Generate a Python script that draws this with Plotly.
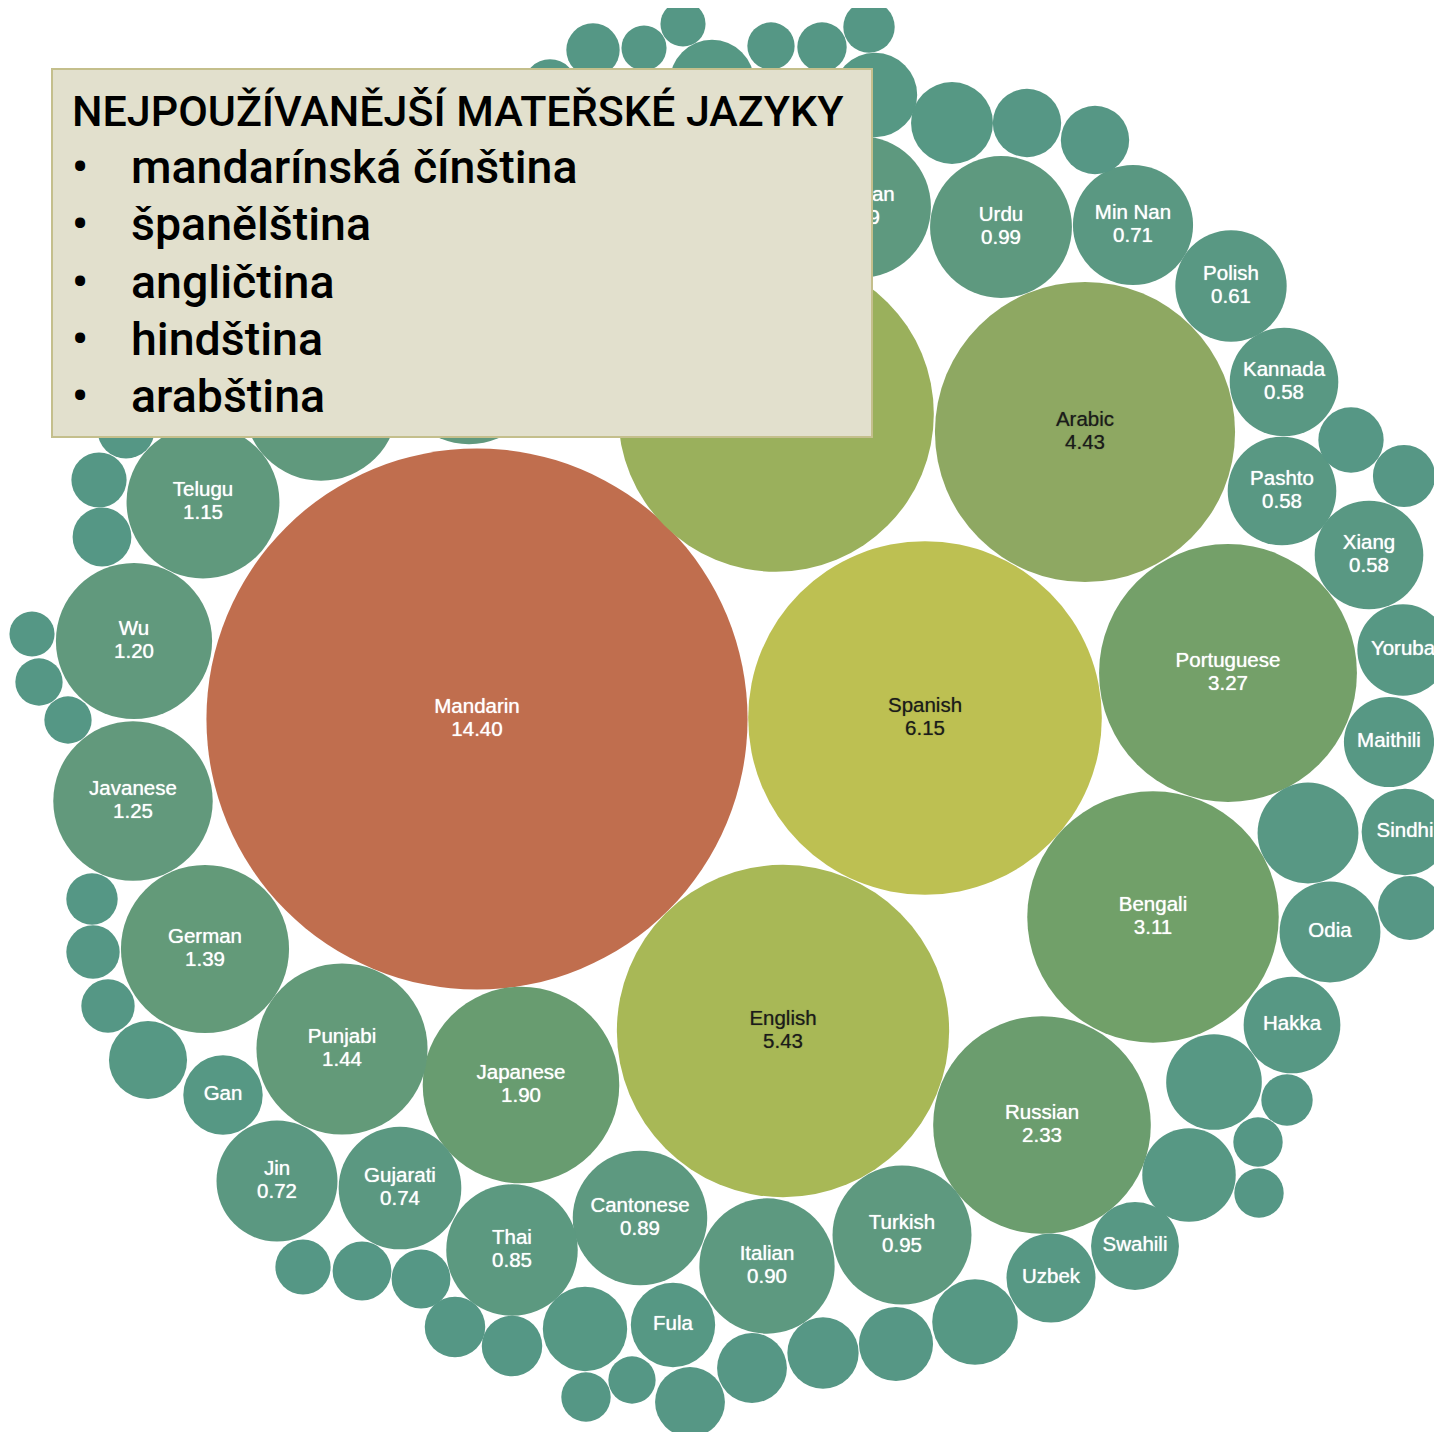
import numpy as np
import plotly.graph_objects as go

# ---------------- data (share of world population, %) ----------------
languages = [
    "Mandarin", "Spanish", "English", "Hindi", "Arabic", "Portuguese", "Bengali",
    "Russian", "Japanese", "Punjabi", "German", "Javanese", "Wu", "Telugu",
    "Malay", "Korean", "Persian", "Urdu", "Turkish", "Italian", "Cantonese",
    "Thai", "Gujarati", "Jin", "Min Nan", "Polish", "Kannada", "Pashto", "Xiang",
    "Odia", "Hakka", "Yoruba", "Maithili", "Uzbek", "Sindhi", "Swahili", "Fula",
    "Gan",
    "Kinyarwanda", "Dhundhari", "Balochi", "Konkani", "Azerbaijani", "Belarusian",
    "Hiligaynon", "Quechua", "Romanian", "Cebuano", "Assamese", "Madurese",
    "Haryanvi", "Hungarian", "Malayalam", "Chhattisgarhi", "Ukrainian", "Swedish",
    "Uyghur", "Shona", "Sundanese", "Amharic", "Serbo-Croatian", "Sinhalese",
    "Chittagonian", "Turkmen", "Xhosa", "Mossi", "Malagasy", "Greek", "Deccan",
    "Kazakh", "Chewa", "Haitian Creole", "Kurdish", "Ilokano", "Min Dong",
    "Kirundi", "Hmong", "Czech", "Sylheti", "Akan", "Min Bei", "Marwari",
]
share = [
    14.40, 6.15, 5.43, 4.90, 4.43, 3.27, 3.11,
    2.33, 1.90, 1.44, 1.39, 1.25, 1.20, 1.15,
    1.16, 1.14, 0.99, 0.99, 0.95, 0.90, 0.89,
    0.85, 0.74, 0.72, 0.71, 0.61, 0.58, 0.58, 0.58,
    0.50, 0.46, 0.41, 0.40, 0.39, 0.37, 0.38, 0.35,
    0.31,
    0.14, 0.14, 0.10, 0.10, 0.35, 0.11,
    0.12, 0.13, 0.35, 0.33, 0.23, 0.23,
    0.21, 0.19, 0.50, 0.20, 0.45, 0.13,
    0.12, 0.12, 0.43, 0.36, 0.27, 0.25,
    0.24, 0.24, 0.11, 0.12, 0.35, 0.18, 0.18,
    0.17, 0.17, 0.15, 0.30, 0.14, 0.14,
    0.13, 0.11, 0.11, 0.10, 0.17, 0.15, 0.16,
]
# bubble centres of the packed layout (page pixels)
bubble_x = [
    477, 925, 783, 776, 1085, 1228, 1153,
    1042, 521, 342, 205, 133, 134, 203,
    321, 469, 860, 1001, 902, 767, 640,
    512, 400, 277, 1133, 1231, 1284, 1282, 1369,
    1330, 1292, 1403, 1389, 1051, 1405, 1135, 673,
    223,
    550, 593, 644, 683, 712, 771,
    822, 869, 875, 952, 1027, 1095,
    1351, 1404, 1308, 1410, 1214, 1287,
    1258, 1259, 1189, 975, 896, 823,
    752, 690, 632, 586, 585, 512, 455,
    421, 362, 303, 148, 108, 93,
    92, 68, 39, 32, 102, 99, 126,
]
bubble_y = [
    719, 718, 1031, 414, 432, 673, 917,
    1125, 1085, 1049, 949, 801, 641, 502,
    404, 368, 207, 227, 1235, 1266, 1218,
    1250, 1188, 1181, 225, 286, 382, 491, 555,
    932, 1025, 650, 742, 1278, 832, 1246, 1325,
    1095,
    86, 50, 48, 24, 82, 46,
    47, 27, 95, 123, 123, 140,
    440, 476, 833, 908, 1082, 1100,
    1142, 1193, 1175, 1322, 1344, 1353,
    1368, 1402, 1380, 1397, 1329, 1346, 1327,
    1279, 1271, 1267, 1060, 1006, 952,
    899, 720, 682, 634, 537, 480, 430,
]

# colour scale anchors (value -> colour)
color_stop_values = [0.10, 0.45, 1.20, 1.90, 3.20, 4.43, 5.43, 6.15, 14.40]
color_stop_colors = ["#559785", "#579884", "#61997D", "#689C70", "#72A069",
                     "#8EA862", "#A8B856", "#BDC052", "#C06E4E"]

box_title = "NEJPOUŽÍVANĚJŠÍ MATEŘSKÉ JAZYKY"
box_items = ["mandarínská čínština", "španělština", "angličtina", "hindština", "arabština"]

# ---------------- helpers ----------------
K = 71.3  # px per sqrt(%)
share_arr = np.array(share)
radius = K * np.sqrt(share_arr)
cmin, cmax = color_stop_values[0], color_stop_values[-1]
colorscale = [[(v - cmin) / (cmax - cmin), c] for v, c in zip(color_stop_values, color_stop_colors)]

BOX = dict(x0=52, x1=872, y0=69, y1=437)


def hex2rgb(h):
    h = h.lstrip("#")
    return np.array([int(h[i:i + 2], 16) for i in (0, 2, 4)], dtype=float)


def color_for(v):
    rgbs = np.array([hex2rgb(c) for c in color_stop_colors])
    return np.array([np.interp(v, color_stop_values, rgbs[:, k]) for k in range(3)])


ARIAL = {c: w for c, w in zip("abcdefghijklmnopqrstuvwxyz",
                              [556, 556, 500, 556, 556, 278, 556, 556, 222, 222, 500, 222, 833,
                               556, 556, 556, 556, 333, 500, 278, 556, 500, 722, 500, 500, 500])}
ARIAL.update({c: w for c, w in zip("ABCDEFGHIJKLMNOPQRSTUVWXYZ",
                                   [667, 667, 722, 722, 667, 611, 778, 722, 278, 500, 667, 556, 833,
                                    722, 778, 667, 778, 722, 667, 611, 722, 667, 944, 667, 667, 611])})
ARIAL.update({" ": 278, "-": 333, ".": 278})


def text_width(s, size):
    return sum(ARIAL.get(ch, 556) for ch in s) * size / 1000.0


def under_box(cx, top, bottom, half_w):
    return (cx - half_w > BOX["x0"] and cx + half_w < BOX["x1"]
            and top > BOX["y0"] and bottom < BOX["y1"])


LABEL_SIZE = 20.5
labels = {"#ffffff": dict(nx=[], ny=[], nt=[], vx=[], vy=[], vt=[]),
          "#1b1b1b": dict(nx=[], ny=[], nt=[], vx=[], vy=[], vt=[])}
for name, v, cx, cy, r in zip(languages, share, bubble_x, bubble_y, radius):
    w = text_width(name, 20)
    if w > 2 * r - 18:
        continue
    rgb = color_for(v)
    lum = 0.299 * rgb[0] + 0.587 * rgb[1] + 0.114 * rgb[2]
    col = "#1b1b1b" if lum > 148 else "#ffffff"
    d = labels[col]
    if v >= 0.55:
        if under_box(cx, cy - 25, cy + 25, w / 2):
            continue
        d["nx"].append(cx); d["ny"].append(cy - 11); d["nt"].append(name)
        d["vx"].append(cx); d["vy"].append(cy + 12); d["vt"].append(f"{v:.2f}")
    else:
        if under_box(cx, cy - 12, cy + 12, w / 2):
            continue
        d["nx"].append(cx); d["ny"].append(cy); d["nt"].append(name)

fig = go.Figure()
fig.add_trace(go.Scatter(
    x=bubble_x, y=bubble_y, mode="markers",
    marker=dict(size=2 * radius, sizemode="diameter", color=share,
                colorscale=colorscale, cmin=cmin, cmax=cmax,
                line=dict(width=0), opacity=1),
    text=[f"{n}: {v:.2f} %" for n, v in zip(languages, share)],
    hoverinfo="text",
))
font_lbl = "Liberation Sans, Arial, sans-serif"
for col, d in labels.items():
    shadow = "0px 0px 1px rgba(255,255,255,0.9)" if col == "#ffffff" else "0px 0px 1px rgba(0,0,0,0.5)"
    for xs, ys, ts in ((d["nx"], d["ny"], d["nt"]), (d["vx"], d["vy"], d["vt"])):
        if not xs:
            continue
        fig.add_trace(go.Scatter(
            x=xs, y=ys, mode="text", text=ts, textposition="middle center",
            textfont=dict(family=font_lbl, size=LABEL_SIZE, color=col, shadow=shadow),
            hoverinfo="skip"))

# overlay text box
fig.add_shape(type="rect", xref="x", yref="y", x0=BOX["x0"], x1=BOX["x1"],
              y0=BOX["y0"], y1=BOX["y1"],
              fillcolor="#E2E0CD", line=dict(color="#C4BF8C", width=2), layer="above")

box_font = "Roboto, Liberation Sans, Arial, sans-serif"
annotations = [dict(x=70, y=111, xref="x", yref="y", text=box_title, showarrow=False,
                    xanchor="left", yanchor="middle",
                    font=dict(family=box_font, size=43, color="#000000", weight=500))]
for i, item in enumerate(box_items):
    yc = 167 + i * 57.3
    annotations.append(dict(x=70, y=yc, xref="x", yref="y", text="•", showarrow=False,
                            xanchor="left", yanchor="middle",
                            font=dict(family=box_font, size=46, color="#000000", weight=500)))
    annotations.append(dict(x=129, y=yc, xref="x", yref="y", text=item, showarrow=False,
                            xanchor="left", yanchor="middle",
                            font=dict(family=box_font, size=46.5, color="#000000", weight=500)))

W, H, OFF = 1434, 1424, 8
fig.update_layout(
    width=W, height=H, margin=dict(l=0, r=0, t=0, b=0),
    paper_bgcolor="white", plot_bgcolor="white", showlegend=False,
    xaxis=dict(range=[OFF, OFF + W], visible=False, fixedrange=True),
    yaxis=dict(range=[OFF + H, OFF], visible=False, fixedrange=True),
    annotations=annotations,
)
fig.write_html("out.html")
